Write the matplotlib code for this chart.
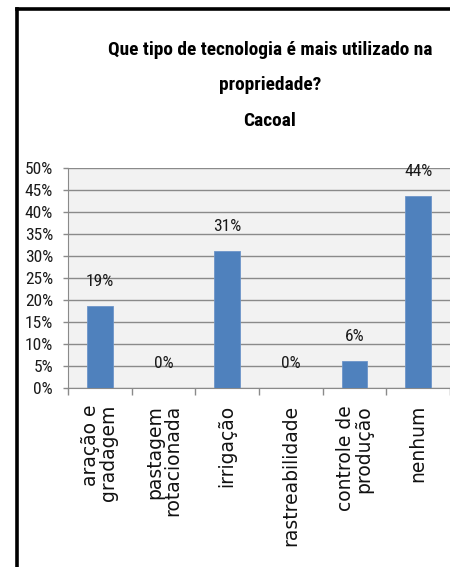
import matplotlib
matplotlib.use("Agg")
import matplotlib.pyplot as plt
from matplotlib import font_manager
from matplotlib.font_manager import FontProperties
from matplotlib.lines import Line2D
from matplotlib.ticker import PercentFormatter, FixedLocator

# dados (Cacoal)
title_lines = ["Que tipo de tecnologia é mais utilizado na", "propriedade?", "Cacoal"]
categorias = ["aração e\ngradagem", "pastagem\nrotacionada", "irrigação",
              "rastreabilidade", "controle de\nprodução", "nenhum"]
valores = [0.1875, 0.0, 0.3125, 0.0, 0.0625, 0.4375]
rotulos = ["19%", "0%", "31%", "0%", "6%", "44%"]
y_ticks = [0.0, 0.05, 0.10, 0.15, 0.20, 0.25, 0.30, 0.35, 0.40, 0.45, 0.50]


def _w(f):
    w = f.weight
    if isinstance(w, str):
        w = font_manager.weight_dict.get(w, 400)
    return w


def condensed_font(bold):
    # procura uma fonte estreita (o original é Calibri achatado)
    prefs = ["liberation sans narrow", "roboto condensed", "open sans condensed",
             "dejavu sans condensed", "noto sans condensed"]
    best, best_rank = None, 99
    for f in font_manager.fontManager.ttflist:
        key = (f.name + " " + f.fname.split("/")[-1]).lower()
        if not ("narrow" in key or "condensed" in key):
            continue
        if "extra" in key or "ultra" in key or "semi" in key or "italic" in key \
                or "oblique" in key or f.style != "normal":
            continue
        if (_w(f) >= 600) != bold:
            continue
        rank = 50
        for i, p in enumerate(prefs):
            if p in key or p.replace(" ", "") in key:
                rank = i
                break
        if rank < best_rank:
            best, best_rank = f, rank
    if best is None:
        return FontProperties(family="Liberation Sans",
                              weight="bold" if bold else "normal")
    return FontProperties(fname=best.fname)


W, H = 450, 567
fig = plt.figure(figsize=(W / 100, H / 100), dpi=100)
fig.patch.set_facecolor("white")
renderer = fig.canvas.get_renderer()


def fit(fp, text, target_px):
    # ajusta o tamanho para a largura medida no original
    fp = fp.copy()
    fp.set_size(12)
    t = fig.text(0, 0, text, fontproperties=fp)
    w = t.get_window_extent(renderer).width
    t.remove()
    fp.set_size(12 * target_px / w)
    return fp


fp_title = fit(condensed_font(True), title_lines[0], 326)
fp_num = fit(condensed_font(False), "50%", 28)

# moldura preta (só esquerda e topo aparecem no recorte)
fig.add_artist(Line2D([16.5 / W, 16.5 / W], [0, 1 - 9 / H], color="black",
                      linewidth=2.6, transform=fig.transFigure, solid_capstyle="projecting"))
fig.add_artist(Line2D([16.5 / W, 1], [1 - 9 / H, 1 - 9 / H], color="black",
                      linewidth=2.6, transform=fig.transFigure, solid_capstyle="projecting"))

# título
for txt, base in zip(title_lines, [55, 90, 126]):
    fig.text(270 / W, 1 - base / H, txt, ha="center", va="baseline",
             fontproperties=fp_title, color="black")

ax = fig.add_axes([68 / W, 1 - 388 / H, (W - 68) / W, 220 / H])
ax.set_facecolor("#f2f2f2")

x = list(range(len(categorias)))
bars = ax.bar(x, valores, width=0.4, color="#4f81bd", edgecolor="#6d95c9",
              linewidth=0.6, zorder=3)

for b, lab in zip(bars, rotulos):
    ax.annotate(lab, (b.get_x() + b.get_width() / 2, b.get_height()),
                xytext=(0, 17.6), textcoords="offset points",
                ha="center", va="center", fontproperties=fp_num,
                color="#1a1a1a")

ax.set_ylim(0, 0.5)
ax.set_xlim(-0.5, len(categorias) - 0.5)
ax.set_yticks(y_ticks)
ax.yaxis.set_major_formatter(PercentFormatter(1.0, decimals=0))
ax.grid(axis="y", color="#8a8a8a", linewidth=1.0, zorder=0)
ax.set_axisbelow(True)

ax.set_xticks(x)
ax.set_xticklabels(categorias, rotation=90, fontsize=13.5, family="DejaVu Sans",
                   color="#111111", ha="center", va="top", ma="right",
                   linespacing=0.95)
ax.xaxis.set_minor_locator(FixedLocator([i - 0.5 for i in range(len(categorias) + 1)]))
ax.tick_params(axis="x", which="major", length=0, pad=12.2)
ax.tick_params(axis="x", which="minor", length=5, width=1, color="#8a8a8a", direction="out")
ax.tick_params(axis="y", length=3.6, width=1, color="#8a8a8a", pad=7.2,
               labelcolor="#1a1a1a")
for lab in ax.get_yticklabels():
    lab.set_fontproperties(fp_num)

for s in ["top", "right"]:
    ax.spines[s].set_visible(False)
ax.spines["left"].set_color("#8a8a8a")
ax.spines["bottom"].set_color("#8a8a8a")

fig.savefig("out.png", dpi=100)
